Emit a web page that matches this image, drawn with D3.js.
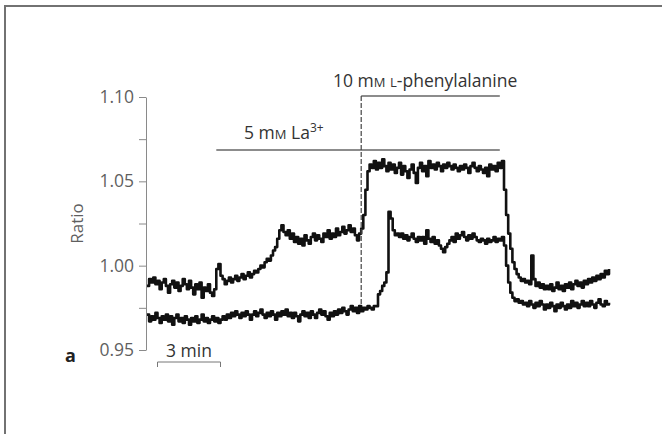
<!DOCTYPE html>
<html>
<head>
<meta charset="utf-8">
<script src="https://cdn.jsdelivr.net/npm/d3@7"></script>
<style>
  html, body { margin: 0; padding: 0; background: #fff; }
  svg { display: block; }
</style>
</head>
<body>
<svg id="chart"></svg>
<script>
// Fluorescence ratio traces, sampled every 0.1 min from t = 0 to 22 min

var sampleMin = 0.1;

// trace that responds to La3+ (upper)
var laTrace = [
  0.988, 0.992, 0.990, 0.993, 0.989, 0.991, 0.986, 0.990, 0.992, 0.988,
  0.984, 0.989, 0.991, 0.987, 0.990, 0.985, 0.988, 0.992, 0.989, 0.986,
  0.991, 0.987, 0.983, 0.989, 0.986, 0.990, 0.981, 0.987, 0.985, 0.989,
  0.984, 0.982, 0.986, 0.998, 1.001, 0.994, 0.992, 0.989, 0.991, 0.993,
  0.990, 0.992, 0.994, 0.991, 0.993, 0.995, 0.992, 0.994, 0.996, 0.993,
  0.995, 0.997, 0.996, 0.998, 1.000, 0.999, 1.002, 1.004, 1.003, 1.006,
  1.009, 1.011, 1.016, 1.021, 1.024, 1.020, 1.018, 1.021, 1.016, 1.019,
  1.014, 1.017, 1.013, 1.016, 1.012, 1.018, 1.015, 1.013, 1.017, 1.019,
  1.015, 1.018, 1.016, 1.014, 1.019, 1.017, 1.021, 1.016, 1.019, 1.017,
  1.022, 1.018, 1.020, 1.023, 1.019, 1.021, 1.024, 1.020, 1.022, 1.018,
  1.015, 1.019, 1.022, 1.030, 1.045, 1.056, 1.060, 1.058, 1.062, 1.057,
  1.061, 1.058, 1.063, 1.059, 1.056, 1.061, 1.057, 1.060, 1.055, 1.058,
  1.061, 1.054, 1.059, 1.056, 1.052, 1.057, 1.060, 1.055, 1.049, 1.058,
  1.061, 1.056, 1.059, 1.053, 1.062, 1.058, 1.060, 1.057, 1.061, 1.059,
  1.056, 1.060, 1.058, 1.061, 1.059, 1.057, 1.060, 1.058, 1.056, 1.059,
  1.057, 1.060, 1.058, 1.055, 1.059, 1.061, 1.058, 1.056, 1.059, 1.057,
  1.055, 1.058, 1.053, 1.060, 1.057, 1.059, 1.056, 1.061, 1.058, 1.062,
  1.045, 1.030, 1.019, 1.010, 1.002, 0.998, 0.995, 0.993, 0.991, 0.992,
  0.990, 0.991, 0.989, 1.006, 0.992, 0.988, 0.990, 0.987, 0.989, 0.986,
  0.988, 0.986, 0.989, 0.985, 0.987, 0.990, 0.986, 0.988, 0.985, 0.989,
  0.987, 0.990, 0.986, 0.989, 0.991, 0.988, 0.990, 0.987, 0.991, 0.989,
  0.992, 0.990, 0.993, 0.991, 0.994, 0.992, 0.995, 0.993, 0.997, 0.995,
  0.998
];

// trace with little La3+ response (lower)
var baseTrace = [
  0.971, 0.967, 0.970, 0.968, 0.972, 0.969, 0.966, 0.970, 0.968, 0.971,
  0.967, 0.970, 0.965, 0.969, 0.971, 0.967, 0.969, 0.966, 0.970, 0.968,
  0.965, 0.969, 0.967, 0.970, 0.966, 0.968, 0.971, 0.967, 0.969, 0.966,
  0.968, 0.970, 0.967, 0.969, 0.966, 0.968, 0.970, 0.968, 0.971, 0.969,
  0.972, 0.970, 0.973, 0.971, 0.969, 0.972, 0.970, 0.973, 0.971, 0.968,
  0.971, 0.973, 0.970, 0.972, 0.974, 0.971, 0.969, 0.972, 0.970, 0.973,
  0.971, 0.968, 0.972, 0.970, 0.973, 0.971, 0.974, 0.970, 0.972, 0.969,
  0.972, 0.970, 0.967, 0.971, 0.973, 0.970, 0.972, 0.969, 0.973, 0.971,
  0.969, 0.972, 0.974, 0.971, 0.973, 0.970, 0.968, 0.972, 0.970, 0.973,
  0.971, 0.974, 0.972, 0.975, 0.973, 0.971, 0.974, 0.976, 0.973, 0.975,
  0.972, 0.976, 0.973, 0.975, 0.974, 0.976, 0.975, 0.974, 0.976, 0.976,
  0.983, 0.985, 0.988, 0.990, 0.996, 1.032, 1.028, 1.021, 1.018, 1.019,
  1.017, 1.019, 1.016, 1.018, 1.015, 1.017, 1.019, 1.016, 1.014, 1.017,
  1.015, 1.017, 1.013, 1.021, 1.016, 1.014, 1.017, 1.013, 1.015, 1.012,
  1.010, 1.008, 1.011, 1.013, 1.015, 1.017, 1.014, 1.019, 1.016, 1.018,
  1.020, 1.017, 1.015, 1.018, 1.016, 1.019, 1.017, 1.015, 1.014, 1.016,
  1.015, 1.013, 1.016, 1.014, 1.015, 1.017, 1.014, 1.016, 1.015, 1.017,
  1.012, 1.000, 0.990, 0.984, 0.981, 0.979, 0.980, 0.978, 0.979, 0.977,
  0.978, 0.976, 0.979, 0.977, 0.975, 0.978, 0.976, 0.979, 0.977, 0.974,
  0.977, 0.975, 0.978, 0.976, 0.973, 0.977, 0.975, 0.978, 0.976, 0.974,
  0.977, 0.975, 0.979, 0.976, 0.978, 0.975, 0.977, 0.979, 0.976, 0.978,
  0.976, 0.979, 0.977, 0.975, 0.978, 0.980, 0.977, 0.976, 0.979, 0.977,
  0.978
];

// application periods (min)
var laPeriod = [3.3, 16.8];
var phePeriod = [10.2, 16.8];

var yTicks = [0.95, 0.975, 1.00, 1.025, 1.05, 1.075, 1.10];
var yLabels = ['0.95', '', '1.00', '', '1.05', '', '1.10'];

var scaleBarMin = [0.5, 3.5];

var width = 662,
    height = 434;

var svg = d3.select('#chart')
  .attr('width', width)
  .attr('height', height);

var font = '"Open Sans", "Noto Sans", sans-serif';

// page frame (top and left edge only)
svg.append('path')
  .attr('d', 'M5,434 V6 H662')
  .attr('fill', 'none')
  .attr('stroke', '#727272')
  .attr('stroke-width', 2);

var x = d3.scaleLinear()
  .domain([0, 22])
  .range([147, 609]);

var y = d3.scaleLinear()
  .domain([0.95, 1.10])
  .range([350, 97]);

// y axis
var yAxis = d3.axisLeft(y)
  .tickValues(yTicks)
  .tickSize(7)
  .tickSizeOuter(0)
  .tickPadding(5)
  .tickFormat(function (d, i) { return yLabels[i]; });

var gAxis = svg.append('g')
  .attr('transform', 'translate(146,0)')
  .call(yAxis);

gAxis.select('.domain').attr('stroke', '#8a8a8a');
gAxis.selectAll('.tick line').attr('stroke', '#8a8a8a');
gAxis.selectAll('.tick text')
  .attr('fill', '#5f5f5f')
  .style('font-family', font)
  .style('font-size', '17.5px');

svg.append('text')
  .attr('transform', 'translate(83,' + y(1.025) + ') rotate(-90)')
  .attr('text-anchor', 'middle')
  .attr('fill', '#5f5f5f')
  .style('font-family', font)
  .style('font-size', '17px')
  .text('Ratio');

svg.append('text')
  .attr('x', 65)
  .attr('y', 362)
  .attr('fill', '#222')
  .style('font-family', font)
  .style('font-size', '18px')
  .style('font-weight', 'bold')
  .text('a');

// traces
var line = d3.line()
  .x(function (d, i) { return x(i * sampleMin); })
  .y(function (d) { return y(d); })
  .curve(d3.curveStepAfter);

[baseTrace, laTrace].forEach(function (trace) {
  svg.append('path')
    .datum(trace)
    .attr('fill', 'none')
    .attr('stroke', '#111')
    .attr('stroke-width', 2.6)
    .attr('stroke-linejoin', 'round')
    .attr('d', line);
});

// application bars
var laY = 150,
    pheY = 96;

svg.append('line')
  .attr('x1', x(laPeriod[0])).attr('x2', x(laPeriod[1]))
  .attr('y1', laY).attr('y2', laY)
  .attr('stroke', '#666').attr('stroke-width', 1.3);

svg.append('line')
  .attr('x1', x(phePeriod[0])).attr('x2', x(phePeriod[1]))
  .attr('y1', pheY).attr('y2', pheY)
  .attr('stroke', '#666').attr('stroke-width', 1.3);

svg.append('line')
  .attr('x1', x(phePeriod[0])).attr('x2', x(phePeriod[0]))
  .attr('y1', pheY).attr('y2', 306)
  .attr('stroke', '#444').attr('stroke-width', 1.2)
  .attr('stroke-dasharray', '5,2');

var laText = svg.append('text')
  .attr('x', 244)
  .attr('y', 139)
  .attr('fill', '#333')
  .style('font-family', font)
  .style('font-size', '17.5px');
laText.append('tspan').text('5 m');
laText.append('tspan').style('font-size', '13px').text('M');
laText.append('tspan').text(' La');
laText.append('tspan').attr('dy', -7).style('font-size', '12px').text('3+');

var pheText = svg.append('text')
  .attr('x', 333)
  .attr('y', 87)
  .attr('fill', '#333')
  .style('font-family', font)
  .style('font-size', '17.5px');
pheText.append('tspan').text('10 m');
pheText.append('tspan').style('font-size', '13px').text('M');
pheText.append('tspan').text(' ');
pheText.append('tspan').style('font-size', '13px').text('L');
pheText.append('tspan').text('-phenylalanine');

// 3 min scale bar
svg.append('path')
  .attr('d', 'M' + x(scaleBarMin[0]) + ',367 V362 H' + x(scaleBarMin[1]) + ' V367')
  .attr('fill', 'none')
  .attr('stroke', '#777')
  .attr('stroke-width', 1);

svg.append('text')
  .attr('x', (x(scaleBarMin[0]) + x(scaleBarMin[1])) / 2)
  .attr('y', 357)
  .attr('text-anchor', 'middle')
  .attr('fill', '#333')
  .style('font-family', font)
  .style('font-size', '17.5px')
  .text('3 min');
</script>
</body>
</html>
